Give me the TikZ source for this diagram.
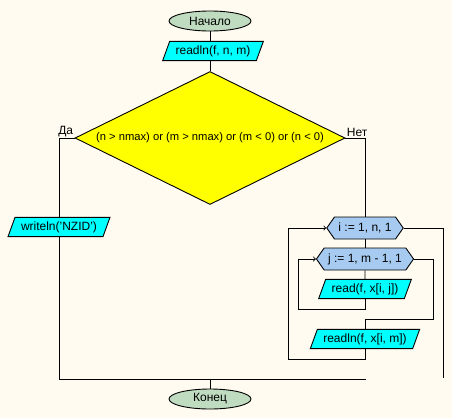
\documentclass[tikz,border=0pt]{standalone}
\usepackage{fontspec}
\setmainfont{Liberation Sans}
\usetikzlibrary{shapes.geometric,shapes.symbols,positioning}
\definecolor{bgcream}{RGB}{255,251,240}
\definecolor{termgreen}{RGB}{192,220,192}
\definecolor{iocyan}{RGB}{0,255,255}
\definecolor{condyellow}{RGB}{255,255,0}
\definecolor{loopblue}{RGB}{166,202,240}

\begin{document}
\begin{tikzpicture}[x=1pt,y=-1pt,line width=0.9pt,
    every node/.style={font=\fontsize{12}{14}\selectfont},
    term/.style={ellipse,draw,fill=termgreen,minimum width=82pt,minimum height=20pt,inner sep=0pt},
    io/.style={trapezium,trapezium left angle=70,trapezium right angle=110,draw,fill=iocyan,inner xsep=6pt,inner ysep=4pt},
    cond/.style={diamond,draw,fill=condyellow,aspect=2,minimum width=270pt,minimum height=133pt,inner sep=0pt,font=\fontsize{11.2}{13}\selectfont},
    loopbox/.style={signal,signal to=west and east,signal pointer angle=110,draw,fill=loopblue,minimum height=22pt,inner xsep=4pt,inner ysep=0pt},
    lbl/.style={inner sep=1pt}]

    \fill[bgcream] (0,0) rectangle (452,418);

    \node[term] (start) at (210,21) {Начало};
    \node[io] (inp) at (213,51) {readln(f, n, m)};
    \node[cond] (cond) at (210,138) {(n > nmax) or (m > nmax) or (m < 0) or (n < 0)};
    \node[lbl,anchor=south east] (yes) at (cond.west) {Да};
    \node[lbl,anchor=south west] (no) at (cond.east) {Нет};
    \node[io] (err) at (59,227) {writeln('NZID')};
    \node[loopbox] (li) at (365,228) {i := 1, n, 1};
    \node[loopbox] (lj) at (365,259) {j := 1, m - 1, 1};
    \node[io] (rd) at (365,289) {read(f, x[i, j])};
    \node[io] (rdl) at (365,339) {readln(f, x[i, m])};
    \node[term] (stop) at (210,399) {Конец};

    \coordinate (jback) at (298,309);
    \coordinate (jout) at (433,319);
    \coordinate (iback) at (288,359);
    \coordinate (iout) at (443,378);
    \coordinate (merge) at (366,379);

    % main flow
    \draw (start.south) -- (start.south |- inp.north);
    \draw (cond.north |- inp.south) -- (cond.north);
    \draw (cond.west) -| (err.north);
    \draw (err.south) |- (merge);
    \draw (stop.north |- merge) -- (stop.north);
    \draw (cond.east) -| (li.north);
    % loops
    \draw (li.south) -- (lj.north);
    \draw (lj.south) -- (rd.north);
    \draw[->] (rd.south) |- (jback) |- (lj.west);
    \draw (lj.east) -| (jout) -| (rdl.north);
    \draw[->] (rdl.south) |- (iback) |- (li.west);
    \draw (li.east) -| (iout);
\end{tikzpicture}
\end{document}
